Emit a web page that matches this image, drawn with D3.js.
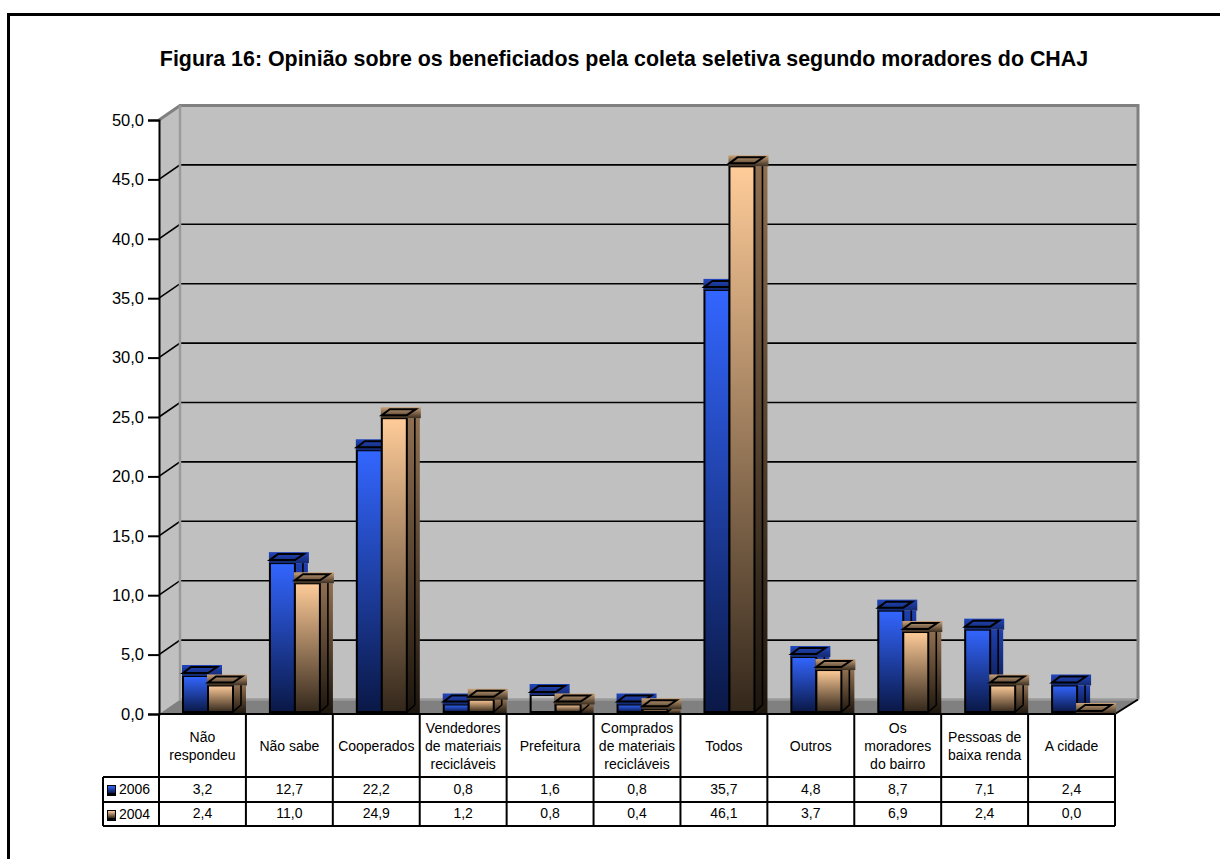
<!DOCTYPE html>
<html>
<head>
<meta charset="utf-8">
<script src="https://cdn.jsdelivr.net/npm/d3@7"></script>
<style>
body{margin:0;background:#fff;}
svg{display:block;}
text{font-family:"Liberation Sans",Arial,sans-serif;fill:#000;}
</style>
</head>
<body>
<div id="chart"></div>
<script>
var categories=["Não|respondeu","Não sabe","Cooperados","Vendedores|de materiais|recicláveis","Prefeitura","Comprados|de materiais|recicláveis","Todos","Outros","Os|moradores|do bairro","Pessoas de|baixa renda","A cidade"];
var years=["2006","2004"];
var values2006=[3.2,12.7,22.2,0.8,1.6,0.8,35.7,4.8,8.7,7.1,2.4];
var values2004=[2.4,11.0,24.9,1.2,0.8,0.4,46.1,3.7,6.9,2.4,0.0];
var yTicks=[0,5,10,15,20,25,30,35,40,45,50];
var title="Figura 16: Opinião sobre os beneficiados pela coleta seletiva segundo moradores do CHAJ";

var w=1220, h=859;
var dx=21, dy=14.5;           // 3d offset of the back wall
var left=159, right=1115;
var fmt=function(v){return v.toFixed(1).replace(".",",");};

var svg=d3.select("#chart").append("svg").attr("width",w).attr("height",h);
var defs=svg.append("defs");

function grad(id,c1,c2){
    var g=defs.append("linearGradient").attr("id",id).attr("x1",0).attr("y1",0).attr("x2",0).attr("y2",1);
    g.append("stop").attr("offset","0%").attr("stop-color",c1);
    g.append("stop").attr("offset","100%").attr("stop-color",c2);
}
grad("front2006","#3366ff","#0a1846");
grad("side2006","#1f3fae","#060e2c");
grad("top2006","#2246bd","#14296f");
grad("front2004","#ffcc99","#33271b");
grad("side2004","#8f6f50","#1c150d");
grad("top2004","#c9a27a","#3b2e20");

var x=d3.scaleBand().domain(categories).range([left,right]);
var y=d3.scaleLinear().domain([0,50]).range([714,120]);
var xBar=d3.scaleBand().domain(years).range([24,74]);

// page frame, only left and top are there
svg.append("path").attr("d","M8.5,"+h+"V14.5H"+w).attr("fill","none").attr("stroke","#000").attr("stroke-width",3);

svg.append("text").attr("x",624).attr("y",66).attr("text-anchor","middle")
    .attr("font-size",21.4).attr("font-weight","bold").text(title);

// walls and floor
var y0=y(0), yTop=y(50), x1=left+dx, x2=right+23;
svg.append("path").attr("d","M"+left+","+yTop+"L"+x1+","+(yTop-dy)+"V"+(y0-dy)+"L"+left+","+y0+"Z").attr("fill","#c0c0c0");
svg.append("rect").attr("x",x1).attr("y",yTop-dy).attr("width",x2-x1).attr("height",y0-yTop).attr("fill","#c0c0c0");
svg.append("path").attr("d","M"+left+","+y0+"L"+x1+","+(y0-dy)+"H"+x2+"L"+right+","+y0+"Z").attr("fill","#808080");

// gridlines, one part on the side wall and one on the back
yTicks.slice(1,-1).forEach(function(t){
    svg.append("path").attr("d","M"+left+","+y(t)+"L"+x1+","+(y(t)-dy)+"H"+x2)
        .attr("fill","none").attr("stroke","#000").attr("stroke-width",1.6);
});
svg.append("path").attr("d","M"+left+","+yTop+"L"+x1+","+(yTop-dy)+"H"+x2+"V"+(y0-dy))
    .attr("fill","none").attr("stroke","#808080").attr("stroke-width",3);
svg.append("path").attr("d","M"+x1+","+(yTop-dy)+"V"+(y0-dy)+"H"+x2)
    .attr("fill","none").attr("stroke","#9a9a9a").attr("stroke-width",2.5);
svg.append("path").attr("d","M"+right+","+y0+"L"+x2+","+(y0-dy)).attr("stroke","#000").attr("stroke-width",2);

// bars
function drawBar(g,name,i,v){
    var bx=x(categories[i])+xBar(name), bw=xBar.bandwidth(), top=y(v), base=y0-2;
    var hollow=(name=="2006"&&categories[i]=="Prefeitura"); // this one has no fill in the picture
    g.append("rect").attr("x",bx+bw).attr("y",top).attr("width",13).attr("height",Math.max(base-top+2,0))
        .attr("fill",hollow?"none":"url(#side"+name+")");
    g.append("path").attr("d","M"+(bx+bw+8)+","+(top-3)+"V"+(base-7)+"L"+(bx+bw)+","+base)
        .attr("fill","none").attr("stroke","#000").attr("stroke-width",1.6).attr("opacity",hollow?0:1);
    g.append("rect").attr("x",bx).attr("y",top).attr("width",bw).attr("height",Math.max(base-top,0))
        .attr("fill",hollow?"none":"url(#front"+name+")").attr("stroke","#000").attr("stroke-width",2);
    g.append("rect").attr("x",bx-1).attr("y",top-11).attr("width",bw+15).attr("height",11)
        .attr("fill","url(#top"+name+")");
    g.append("path").attr("d","M"+bx+","+(top-3)+"L"+(bx+8)+","+(top-9)+"H"+(bx+bw+9)+"L"+(bx+bw)+","+(top-3)+"Z")
        .attr("fill","none").attr("stroke","#000").attr("stroke-width",2);
}
var bars=svg.append("g").attr("class","bars");
categories.forEach(function(c,i){
    var g=bars.append("g");
    drawBar(g,"2006",i,values2006[i]);
    drawBar(g,"2004",i,values2004[i]);
});

// y axis
var axis=d3.axisLeft(y).tickValues(yTicks).tickFormat(fmt).tickSize(11).tickPadding(4);
var ag=svg.append("g").attr("transform","translate("+left+",0)").call(axis);
ag.selectAll("path,line").attr("stroke","#000").attr("stroke-width",2);
ag.selectAll("text").attr("font-size",16.5).attr("font-family","Liberation Sans").attr("fill","#000");

// data table
var r0=y0, r1=777, r2=802, r3=826, tl=103;
var t=svg.append("g").attr("class","table");
t.selectAll("line.col").data(categories).enter().append("line")
    .attr("x1",function(d){return x(d)+x.bandwidth();}).attr("x2",function(d){return x(d)+x.bandwidth();})
    .attr("y1",r0).attr("y2",r3).attr("stroke","#000").attr("stroke-width",2);
t.append("path").attr("d","M"+tl+","+r1+"H"+right+"M"+tl+","+r2+"H"+right+"M"+tl+","+r3+"H"+right+"M"+tl+","+r1+"V"+r3+"M"+left+","+r0+"V"+r3+"M"+left+","+r0+"H"+right)
    .attr("fill","none").attr("stroke","#000").attr("stroke-width",2);

categories.forEach(function(c,i){
    var lines=c.split("|"), cx=x(c)+x.bandwidth()/2, lh=18;
    var startY=(r0+r1)/2+5-(lines.length-1)*lh/2;
    lines.forEach(function(l,k){
        t.append("text").attr("x",cx).attr("y",startY+k*lh).attr("text-anchor","middle").attr("font-size",14).text(l);
    });
    t.append("text").attr("x",cx).attr("y",794).attr("text-anchor","middle").attr("font-size",14).text(fmt(values2006[i]));
    t.append("text").attr("x",cx).attr("y",818).attr("text-anchor","middle").attr("font-size",14).text(fmt(values2004[i]));
});
years.forEach(function(name,k){
    var ry=k==0?r1:r2;
    t.append("rect").attr("x",107).attr("y",ry+8).attr("width",9).attr("height",11).attr("fill","#000");
    t.append("rect").attr("x",108).attr("y",ry+9).attr("width",7).attr("height",7).attr("fill","url(#front"+name+")");
    t.append("text").attr("x",119).attr("y",ry+17).attr("font-size",14).text(name);
});
</script>
</body>
</html>
